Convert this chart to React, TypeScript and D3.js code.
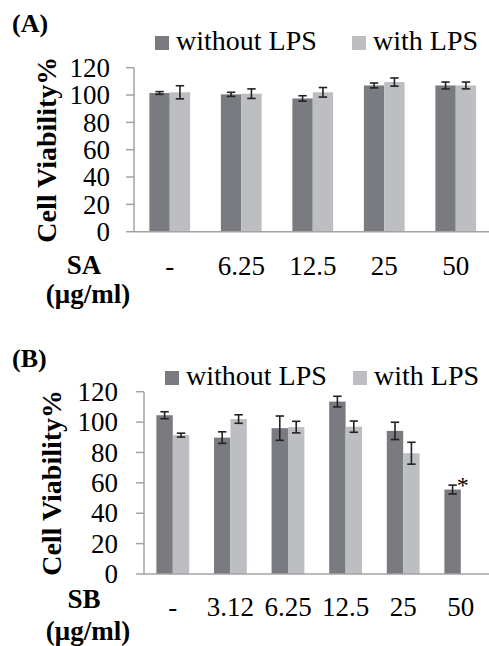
import React from 'react';
import * as d3 from 'd3';

// panel A: SA
const categoriesA = ['-', '6.25', '12.5', '25', '50'];
const withoutA = [101.5, 100.5, 97.5, 107, 107];
const withoutErrA = [1, 1.5, 2, 1.8, 2.5];
const withA = [102, 101, 102, 109.5, 107];
const withErrA = [4.8, 3.5, 3.5, 3, 2.5];
const marksA = ['', '', '', '', ''];

// panel B: SB
const categoriesB = ['-', '3.12', '6.25', '12.5', '25', '50'];
const withoutB = [104.5, 89.8, 96, 113.5, 94.2, 55.6];
const withoutErrB = [2.3, 3.8, 8, 3.5, 5.7, 2.9];
const withB = [91.4, 102, 96.7, 97, 79.5, null];
const withErrB = [1.3, 2.8, 3.8, 3.7, 7.2, null];
const marksB = ['', '', '', '', '', '*'];

const seriesNames = ['without LPS', 'with LPS'];
const yTicks = [0, 20, 40, 60, 80, 100, 120];

const DARK = '#7a7b80';
const LIGHT = '#bdbec2';
const AXIS = '#a3a3a3';
const ERR = '#222';

type PanelProps = {
  label: string;
  drug: string;
  categories: string[];
  without: number[];
  withoutErr: number[];
  withL: (number | null)[];
  withErr: (number | null)[];
  marks: string[];
  // layout
  x0: number; x1: number; yTop: number; yBottom: number;
  tickLabelX: number; titleX: number; labelY: number;
  legendY: number; legendX: [number, number];
  xLabelY: number; drugY: number; unitY: number;
};

function Panel(p: PanelProps) {
  const y = d3.scaleLinear().domain([0, 120]).range([p.yBottom, p.yTop]);
  const x = d3.scaleBand<string>()
    .domain(p.categories)
    .range([p.x0, p.x1])
    .paddingInner(0.43)
    .paddingOuter(0.215);
  const sub = d3.scaleBand<number>().domain([0, 1]).range([0, x.bandwidth()]);
  const series = [
    { vals: p.without, errs: p.withoutErr, color: DARK },
    { vals: p.withL, errs: p.withErr, color: LIGHT },
  ];
  const cap = 4.2;
  return (
    <g>
      <text x={12} y={p.labelY} fontWeight="bold" fontSize={26}>{p.label}</text>
      {/* legend */}
      {seriesNames.map((s, i) => (
        <g key={s} transform={`translate(${p.legendX[i]},${p.legendY})`}>
          <rect x={0} y={-14} width={14} height={14} fill={i === 0 ? DARK : LIGHT} />
          <text x={21} y={0} fontSize={28}>{s}</text>
        </g>
      ))}
      {/* y axis */}
      <line x1={p.x0} x2={p.x0} y1={p.yTop} y2={p.yBottom} stroke={AXIS} strokeWidth={1.5} />
      {yTicks.map(t => (
        <g key={t}>
          <line x1={p.x0 - 8} x2={p.x0} y1={y(t)} y2={y(t)} stroke={AXIS} strokeWidth={1.5} />
          <text x={p.tickLabelX} y={y(t)} dy="0.34em" textAnchor="end" fontSize={27}>{t}</text>
        </g>
      ))}
      <text transform={`translate(${p.titleX},${(p.yTop + p.yBottom) / 2}) rotate(-90)`} textAnchor="middle"
        fontWeight="bold" fontSize={28}>Cell Viability%</text>
      {/* bars */}
      {series.map((s, si) => p.categories.map((c, ci) => {
        const v = s.vals[ci];
        if (v == null) return null;
        const bx = (x(c) ?? 0) + (sub(si) ?? 0);
        return <rect key={`${si}-${ci}`} x={bx} y={y(v)} width={sub.bandwidth()} height={y(0) - y(v)} fill={s.color} />;
      }))}
      {/* error bars */}
      {series.map((s, si) => p.categories.map((c, ci) => {
        const v = s.vals[ci];
        const e = s.errs[ci];
        if (v == null || e == null) return null;
        const cx = (x(c) ?? 0) + (sub(si) ?? 0) + sub.bandwidth() / 2;
        return (
          <g key={`e${si}-${ci}`} stroke={ERR} strokeWidth={1.6}>
            <line x1={cx} x2={cx} y1={y(v + e)} y2={y(v - e)} />
            <line x1={cx - cap} x2={cx + cap} y1={y(v + e)} y2={y(v + e)} />
            <line x1={cx - cap} x2={cx + cap} y1={y(v - e)} y2={y(v - e)} />
          </g>
        );
      }))}
      {p.categories.map((c, ci) => p.marks[ci] ? (
        <text key={`m${ci}`} x={(x(c) ?? 0) + sub.bandwidth() / 2 + cap} y={y(p.without[ci] + p.withoutErr[ci]) + 8}
          fontSize={24}>{p.marks[ci]}</text>
      ) : null)}
      {/* x axis */}
      <line x1={p.x0} x2={489} y1={p.yBottom} y2={p.yBottom} stroke={AXIS} strokeWidth={1.5} />
      {p.categories.map(c => (
        <text key={c} x={(x(c) ?? 0) + x.bandwidth() / 2} y={p.xLabelY} textAnchor="middle" fontSize={27}>{c}</text>
      ))}
      <text x={84} y={p.drugY} textAnchor="middle" fontWeight="bold" fontSize={27}>{p.drug}</text>
      <text x={88} y={p.unitY} textAnchor="middle" fontWeight="bold" fontSize={27}>(μg/ml)</text>
    </g>
  );
}

export default function App() {
  return (
    <svg width={489} height={646}
      style={{ position: 'absolute', left: 0, top: 0, background: '#fff', fontFamily: "'Liberation Serif', 'Times New Roman', Times, serif" }}>
      <Panel label="(A)" drug="SA" categories={categoriesA} without={withoutA} withoutErr={withoutErrA}
        withL={withA} withErr={withErrA} marks={marksA}
        x0={134} x1={491.5} yTop={67.7} yBottom={231.7} tickLabelX={110} titleX={55.5} labelY={32}
        legendY={50} legendX={[155, 352]} xLabelY={275} drugY={274} unitY={303} />
      <Panel label="(B)" drug="SB" categories={categoriesB} without={withoutB} withoutErr={withoutErrB}
        withL={withB} withErr={withErrB} marks={marksB}
        x0={144} x1={489.6} yTop={391.7} yBottom={574} tickLabelX={118} titleX={60.5} labelY={367}
        legendY={385} legendX={[165, 353]} xLabelY={616} drugY={608} unitY={640} />
    </svg>
  );
}
